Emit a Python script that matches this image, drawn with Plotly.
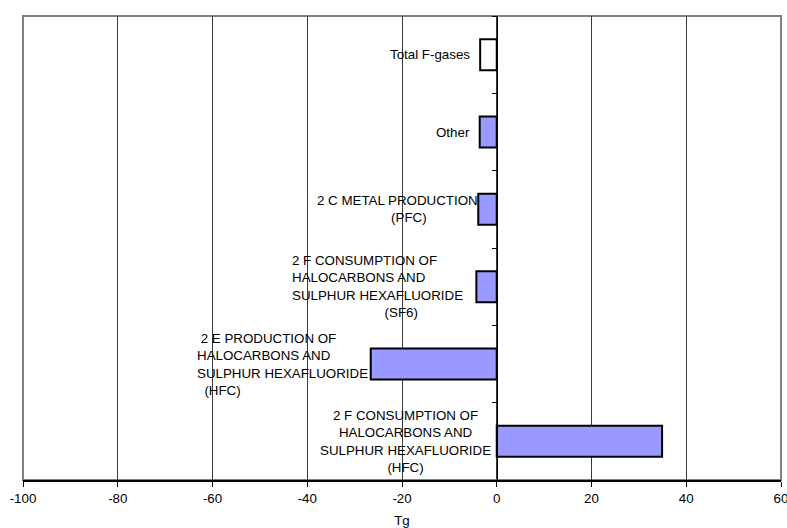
import plotly.graph_objects as go

# ---- data ----
categories = [
    "2 F CONSUMPTION OF HALOCARBONS AND SULPHUR HEXAFLUORIDE (HFC)",
    "2 E PRODUCTION OF HALOCARBONS AND SULPHUR HEXAFLUORIDE (HFC)",
    "2 F CONSUMPTION OF HALOCARBONS AND SULPHUR HEXAFLUORIDE (SF6)",
    "2 C METAL PRODUCTION (PFC)",
    "Other",
    "Total F-gases",
]
values = [34.9, -26.6, -4.3, -3.9, -3.6, -3.5]
label_lines = [
    ["2 F CONSUMPTION OF", "HALOCARBONS AND", "SULPHUR HEXAFLUORIDE", "(HFC)"],
    ["2 E PRODUCTION OF", "HALOCARBONS AND", "SULPHUR HEXAFLUORIDE", "(HFC)"],
    ["2 F CONSUMPTION OF", "HALOCARBONS AND", "SULPHUR HEXAFLUORIDE", "(SF6)"],
    ["2 C METAL PRODUCTION", "(PFC)"],
    ["Other"],
    ["Total F-gases"],
]
x_tick_values = [-100, -80, -60, -40, -20, 0, 20, 40, 60]
x_title = "Tg"

# ---- style ----
bar_fill = ["#9999FF", "#9999FF", "#9999FF", "#9999FF", "#9999FF", "#FFFFFF"]
label_indent = [[0, 0, 0, 0], [1, 0, 0, 2], [0, 0, 0, 25], [0, 20], [0], [0]]
label_align = ["center", "left", "left", "left", "right", "right"]
label_xshift = [-4, -1, -11, 2, -8, -8]
FONT = "Arial, Liberation Sans, sans-serif"
FS = 13.33
NB = "\u00a0"

y_pos = list(range(len(categories)))

fig = go.Figure()
fig.add_trace(go.Bar(
    x=values, y=y_pos, orientation="h", width=0.4,
    marker=dict(color=bar_fill, line=dict(color="black", width=2)),
    hovertext=categories, hoverinfo="text+x", showlegend=False,
))

for i, lines in enumerate(label_lines):
    txt = "<br>".join(NB * label_indent[i][j] + ln for j, ln in enumerate(lines))
    fig.add_annotation(
        x=min(values[i], 0), y=y_pos[i], xref="x", yref="y",
        text=txt, showarrow=False, xanchor="right", yanchor="middle",
        align=label_align[i], xshift=label_xshift[i],
        font=dict(family=FONT, size=FS, color="black"),
    )

# plot frame (gray) on left/top/right
fig.add_shape(type="rect", xref="paper", yref="paper", x0=0, x1=1, y0=0, y1=1,
              line=dict(color="#808080", width=2), layer="below")

fig.update_layout(
    width=787, height=528,
    margin=dict(l=23, r=6, t=16, b=48, autoexpand=False),
    paper_bgcolor="white", plot_bgcolor="white",
    font=dict(family=FONT, size=FS, color="black"),
    bargap=0.6,
    xaxis=dict(
        range=[-100, 60], tickvals=x_tick_values, ticktext=[str(v) for v in x_tick_values],
        showgrid=True, gridcolor="#3a3a3a", gridwidth=1, zeroline=False,
        showline=True, linecolor="black", linewidth=2,
        ticks="outside", ticklen=5, tickcolor="black", tickwidth=1,
        ticklabeloverflow="allow", automargin=False,
        title=dict(text=x_title, standoff=11, font=dict(family=FONT, size=FS)),
        fixedrange=True,
    ),
    yaxis=dict(
        range=[-0.5, 5.5], tickvals=[v - 0.5 for v in y_pos] + [len(y_pos) - 0.5],
        showticklabels=False, showgrid=False, zeroline=False,
        showline=True, linecolor="black", linewidth=1,
        ticks="outside", ticklen=5, tickcolor="black",
        anchor="free", position=100 / 160, fixedrange=True,
    ),
)

fig.write_html(
    "out.html",
    config={"displayModeBar": False},
    post_script="document.body.style.margin='0px';document.body.style.overflow='hidden';",
)
